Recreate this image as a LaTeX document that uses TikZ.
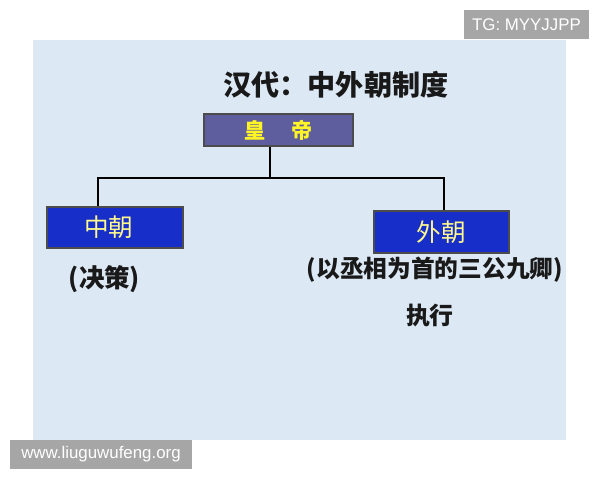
\documentclass[tikz,border=0pt]{standalone}
\usepackage{fontspec}
\usepackage{xcolor}
\setmainfont{Liberation Sans}
\newfontfamily\cjk{Noto Sans CJK SC}
\usetikzlibrary{calc}
\definecolor{slide}{RGB}{220,233,245}
\definecolor{emperor}{RGB}{94,94,158}
\definecolor{court}{RGB}{24,46,200}
\definecolor{mark}{RGB}{166,166,166}
\tikzset{
  post/.style={draw=black!70,line width=0.6pt,inner sep=0pt},
  stamp/.style={fill=mark,text=white,inner sep=0pt,font=\fontsize{9.6}{11}\selectfont},
  link/.style={line width=1pt,black}
}

\begin{document}
\begin{tikzpicture}[x=0.02cm,y=-0.02cm]
\useasboundingbox (0,0) rectangle (600,480);
\fill[slide] (33,40) rectangle (566,440);
\node[stamp,minimum width=125*0.02cm,minimum height=29*0.02cm] (tg) at (526.5,24.5) {TG: MYYJJPP};
\node[stamp,minimum width=182*0.02cm,minimum height=29*0.02cm] (web) at (101,454.5) {www.liuguwufeng.org};
\node (title) at (336,85) {\cjk\bfseries\fontsize{16}{18}\selectfont\color{black!90} 汉代：中外朝制度};
\node[post,fill=emperor,minimum width=149*0.02cm,minimum height=32*0.02cm] (huangdi) at (278.5,130)
  {\cjk\bfseries\fontsize{12}{14}\selectfont\color{yellow!85!white}皇\hspace{1.2em}帝};
\node[post,fill=court,minimum width=136*0.02cm,minimum height=41*0.02cm] (zhongchao) at (115,227.5)
  {\cjk\fontsize{14}{16}\selectfont\color{yellow!45!white}\hspace{-0.5em}中朝};
\node[post,fill=court,minimum width=135*0.02cm,minimum height=42*0.02cm] (waichao) at (441.5,232)
  {\cjk\fontsize{14}{16}\selectfont\color{yellow!45!white}外朝};
\node (juece) at (104.5,279) {\cjk\bfseries\fontsize{14.5}{16}\selectfont\color{black!90} (决策)};
\node (sangong) at (435,270) {\cjk\bfseries\fontsize{13.5}{15}\selectfont\color{black!90} (以丞相为首的三公九卿)};
\node (zhixing) at (430,316) {\cjk\bfseries\fontsize{13.6}{15}\selectfont\color{black!90} 执行};
\coordinate (jt) at (270,178);
\coordinate (jl) at (98,178);
\coordinate (jr) at (444,178);
\draw[link] (huangdi.south -| jt) -- (jt);
\draw[link] (zhongchao.north -| jl) -- (jl) -- (jr) -- (waichao.north -| jr);
\end{tikzpicture}
\end{document}
